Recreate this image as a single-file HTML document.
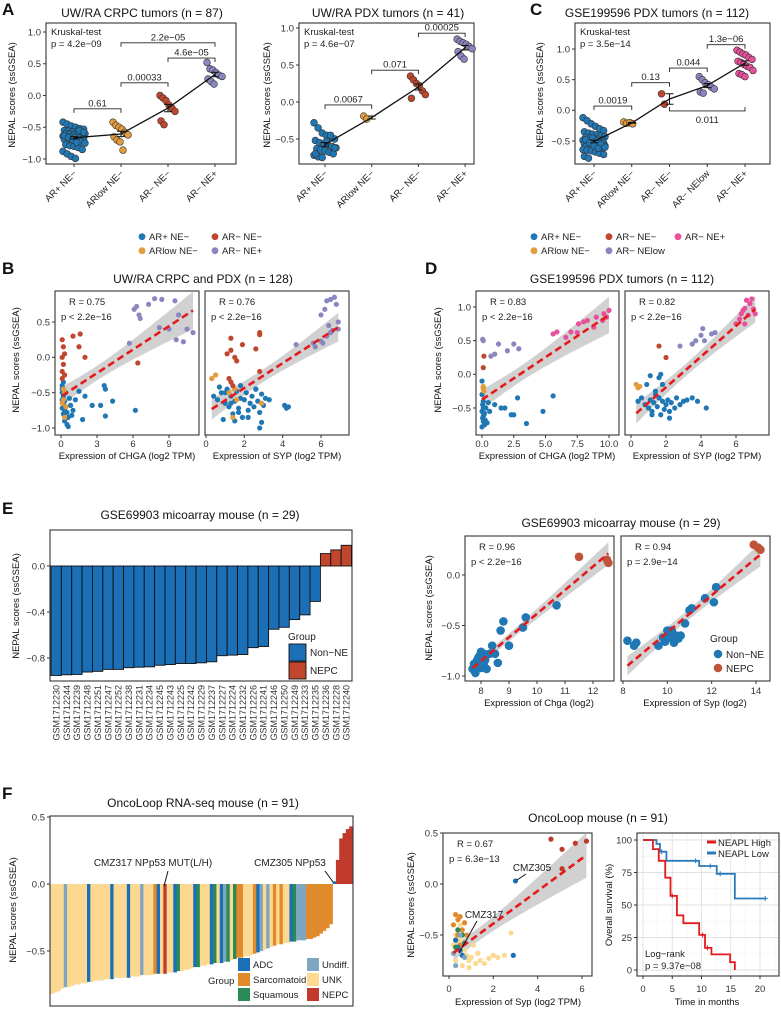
<!DOCTYPE html>
<html><head><meta charset="utf-8">
<style>
html,body{margin:0;padding:0;background:#fff;}
svg{display:block;font-family:"Liberation Sans",Arial,sans-serif;}
</style></head>
<body>
<svg id="fig" xmlns="http://www.w3.org/2000/svg" width="781" height="1009" viewBox="0 0 781 1009">
<g font-weight="bold" font-size="17" fill="#111">
<text x="2" y="15">A</text>
<text x="530" y="15">C</text>
<text x="2" y="274">B</text>
<text x="425" y="274">D</text>
<text x="2" y="514">E</text>
<text x="2" y="799">F</text>
</g>
<g font-size="12" fill="#111" text-anchor="middle">
<text x="142" y="17">UW/RA CRPC tumors (n = 87)</text>
<text x="388" y="17">UW/RA PDX tumors (n = 41)</text>
<text x="657" y="17">GSE199596 PDX tumors (n = 112)</text>
<text x="203" y="283">UW/RA CRPC and PDX (n = 128)</text>
<text x="622" y="283">GSE199596 PDX tumors (n = 112)</text>
<text x="200" y="519">GSE69903 micoarray mouse (n = 29)</text>
<text x="621" y="527">GSE69903 micoarray mouse (n = 29)</text>
<text x="203" y="807">OncoLoop RNA-seq mouse (n = 91)</text>
<text x="598" y="822">OncoLoop mouse (n = 91)</text>
</g>
<g font-size="9.5" fill="#111" text-anchor="middle">
<text transform="translate(15,95) rotate(-90)">NEPAL scores (ssGSEA)</text>
<text transform="translate(270,95) rotate(-90)">NEPAL scores (ssGSEA)</text>
<text transform="translate(543,95) rotate(-90)">NEPAL scores (ssGSEA)</text>
<text transform="translate(19,360) rotate(-90)">NEPAL scores (ssGSEA)</text>
<text transform="translate(441,360) rotate(-90)">NEPAL scores (ssGSEA)</text>
<text transform="translate(19,606) rotate(-90)">NEPAL scores (ssGSEA)</text>
<text transform="translate(432,608) rotate(-90)">NEPAL scores (ssGSEA)</text>
<text transform="translate(16,910) rotate(-90)">NEPAL scores (ssGSEA)</text>
<text transform="translate(414,905) rotate(-90)">NEPAL scores (ssGSEA)</text>
<text transform="translate(612,905) rotate(-90)">Overall survival (%)</text>
<text x="127" y="459">Expression of CHGA (log2 TPM)</text>
<text x="277" y="459">Expression of SYP (log2 TPM)</text>
<text x="547" y="459">Expression of CHGA (log2 TPM)</text>
<text x="697" y="459">Expression of SYP (log2 TPM)</text>
<text x="539" y="706">Expression of Chga (log2)</text>
<text x="695" y="706">Expression of Syp (log2)</text>
<text x="518" y="1005">Expression of Syp (log2 TPM)</text>
<text x="707" y="1005">Time in months</text>
</g>
</svg>
<script>
// ---------- DATA ----------
const aCats1 = ['AR+ NE\u2212','ARlow NE\u2212','AR\u2212 NE\u2212','AR\u2212 NE+'];
const a1Vals = [
 [-0.42,-0.45,-0.48,-0.5,-0.52,-0.53,-0.55,-0.56,-0.57,-0.58,-0.59,-0.6,-0.6,-0.61,-0.62,-0.62,-0.63,-0.64,-0.65,-0.65,-0.66,-0.67,-0.68,-0.69,-0.7,-0.71,-0.72,-0.73,-0.75,-0.77,-0.79,-0.8,-0.82,-0.85,-0.88,-0.92,-0.96,-0.99,-0.55,-0.58,-0.63,-0.66,-0.7,-0.74],
 [-0.42,-0.47,-0.5,-0.53,-0.58,-0.62,-0.65,-0.7,-0.73,-0.86],
 [0.0,-0.04,-0.08,-0.15,-0.2,-0.25,-0.4,-0.46],
 [0.52,0.42,0.4,0.36,0.32,0.3,0.26,0.22,0.18]];
const a1Comp = [[0,1,-0.21,'0.61'],[1,2,0.2,'0.00033'],[2,3,0.59,'4.6e\u221205'],[1,3,0.83,'2.2e\u221205']];
const a2Vals = [
 [-0.28,-0.35,-0.42,-0.45,-0.48,-0.5,-0.52,-0.55,-0.57,-0.58,-0.6,-0.62,-0.63,-0.65,-0.66,-0.68,-0.7,-0.72,-0.74,-0.75,-0.53,-0.45,-0.62,-0.7],
 [-0.19,-0.23],
 [0.35,0.3,0.25,0.22,0.15,0.1,0.05],
 [0.85,0.82,0.8,0.78,0.75,0.72,0.68,0.62,0.58]];
const a2Comp = [[0,1,-0.04,'0.0067'],[1,2,0.43,'0.071'],[2,3,0.93,'0.00025']];
const cCats = ['AR+ NE\u2212','ARlow NE\u2212','AR\u2212 NE\u2212','AR\u2212 NElow','AR\u2212 NE+'];
const cVals = [
 [-0.12,-0.17,-0.22,-0.26,-0.3,-0.33,-0.35,-0.37,-0.39,-0.4,-0.42,-0.43,-0.44,-0.45,-0.46,-0.47,-0.48,-0.49,-0.5,-0.5,-0.51,-0.52,-0.53,-0.54,-0.55,-0.55,-0.56,-0.57,-0.58,-0.59,-0.6,-0.61,-0.62,-0.63,-0.64,-0.65,-0.66,-0.68,-0.7,-0.72,-0.75,-0.78,-0.45,-0.5,-0.55,-0.6,-0.48,-0.53,-0.58,-0.62],
 [-0.19,-0.21,-0.2,-0.22],
 [0.27,0.1],
 [0.55,0.5,0.45,0.42,0.38,0.35,0.3,0.28],
 [0.98,0.95,0.92,0.9,0.86,0.83,0.8,0.78,0.75,0.72,0.7,0.65,0.6,0.58,0.55]];
const cComp = [[0,1,0.07,'0.0019'],[1,2,0.45,'0.13'],[2,3,0.69,'0.044'],[3,4,1.07,'1.3e\u221206']];
const cCompDown = [[2,4,-0.01,'0.011']];
const yTicksA = [-1,-0.5,0,0.5,1];
const yTickLabelsA = ['\u22121.0','\u22120.5','0.0','0.5','1.0'];
const yTicksA2 = [-0.5,0,0.5,1];
const yTickLabelsA2 = ['\u22120.5','0.0','0.5','1.0'];

// B: CHGA
const b1X = [0.1,0.1,0.2,0.1,0.3,0.2,0.4,0.1,0.3,0.5,0.2,0.6,0.3,0.5,0.1,0.4,0.7,0.8,1.0,1.2,1.5,1.8,2.0,2.6,3.3,3.6,3.7,3.7,4.3,6.2,0.2,0.6,0.9,
 0.2,0.3,0.2,0.4,0.3,0.1,
 0.1,0.2,0.3,0.1,0.2,0.1,0.3,0.1,1.0,1.6,1.5,2.0,6.4,
 5.7,6.1,6.3,6.5,6.6,7.3,7.8,8.4,8.2,9.0,9.5,9.6,10.2,10.5,11.0,9.8];
const b1Y = [-0.45,-0.5,-0.55,-0.6,-0.62,-0.65,-0.7,-0.72,-0.75,-0.78,-0.8,-0.85,-0.9,-0.95,-0.4,-0.5,-0.58,-0.68,-0.75,-0.6,-0.48,-0.88,-0.55,-0.68,-0.68,-0.4,-0.45,-0.83,-0.62,-0.75,-0.35,-0.98,-0.82,
 -0.45,-0.5,-0.6,-0.7,-0.85,-0.65,
 0.25,0.15,0.05,0.0,-0.1,-0.2,-0.25,-0.3,0.3,0.33,0.15,0.0,-0.08,
 0.2,0.68,0.72,0.6,0.55,0.75,0.83,0.82,0.42,0.4,0.8,0.25,0.22,0.4,0.35,0.6];
const b1G = [0,0,0,0,0,0,0,0,0,0,0,0,0,0,0,0,0,0,0,0,0,0,0,0,0,0,0,0,0,0,0,0,0,
 1,1,1,1,1,1, 2,2,2,2,2,2,2,2,2,2,2,2,2, 3,3,3,3,3,3,3,3,3,3,3,3,3,3,3,3];
// B: SYP
const b2X = [0.4,0.6,0.8,1.0,1.1,1.2,1.3,1.4,1.5,1.6,1.7,1.8,1.9,2.0,2.1,2.2,2.3,2.4,2.5,2.6,2.7,2.8,2.9,3.0,3.1,3.3,0.7,0.9,1.5,1.8,2.2,2.6,4.1,4.2,4.3,2.8,2.9,1.0,1.3,1.7,
 0.3,0.5,1.2,1.5,1.6,1.4,2.9,
 1.3,1.1,1.3,1.5,1.6,1.9,2.6,2.8,2.8,2.8,1.2,1.3,1.4,
 4.7,5.7,5.6,6.0,6.1,6.3,6.5,6.6,6.9,6.0,6.2,6.3,6.5,6.7,6.8,6.9,6.4];
const b2Y = [-0.55,-0.6,-0.5,-0.65,-0.45,-0.7,-0.55,-0.8,-0.62,-0.48,-0.72,-0.58,-0.85,-0.6,-0.5,-0.75,-0.65,-0.55,-0.7,-0.45,-0.62,-0.78,-0.52,-0.68,-0.58,-0.6,-0.42,-0.88,-0.9,-0.4,-0.85,-0.45,-0.68,-0.72,-0.7,-1.0,-0.92,-0.5,-0.65,-0.78,
 -0.3,-0.25,-0.5,-0.45,-0.6,-0.85,-0.65,
 0.27,0.05,0.1,0.0,-0.05,0.18,0.12,0.35,0.32,-0.2,-0.3,-0.35,-0.4,
 0.18,0.15,0.2,0.23,0.2,0.3,0.35,0.38,0.4,0.6,0.68,0.8,0.82,0.85,0.75,0.5,0.45];
const b2G = [0,0,0,0,0,0,0,0,0,0,0,0,0,0,0,0,0,0,0,0,0,0,0,0,0,0,0,0,0,0,0,0,0,0,0,0,0,0,0,0,
 1,1,1,1,1,1,1, 2,2,2,2,2,2,2,2,2,2,2,2,2, 3,3,3,3,3,3,3,3,3,3,3,3,3,3,3,3,3];
// D
const d1X = [0.0,0.1,0.0,0.1,0.05,0.1,0.0,0.15,0.05,0.1,0.2,0.0,0.3,0.2,0.1,0.25,0.6,1.0,1.5,1.8,2.3,2.5,2.8,3.5,4.8,5.6,0.5,0.4,
 0.1,0.15,0.1, 0.1,0.15,
 0.05,0.1,0.7,1.0,1.3,2.0,2.5,2.9,
 5.6,5.9,6.6,7.0,7.5,7.6,8.0,8.3,9.0,9.5,9.6,10.0,9.8,8.8];
const d1Y = [-0.1,-0.2,-0.3,-0.4,-0.45,-0.5,-0.55,-0.6,-0.65,-0.7,-0.75,-0.78,-0.5,-0.58,-0.62,-0.68,-0.55,-0.45,-0.5,-0.5,-0.6,-0.6,-0.35,-0.73,-0.55,-0.32,-0.42,-0.72,
 -0.18,-0.25,-0.22, 0.1,0.27,
 0.52,0.5,0.27,0.3,0.45,0.35,0.45,0.38,
 0.6,0.63,0.55,0.63,0.62,0.75,0.78,0.8,0.85,0.8,0.9,0.95,0.85,0.7];
const d1G = [0,0,0,0,0,0,0,0,0,0,0,0,0,0,0,0,0,0,0,0,0,0,0,0,0,0,0,0, 1,1,1, 2,2, 3,3,3,3,3,3,3,3, 4,4,4,4,4,4,4,4,4,4,4,4,4,4];
const d2X = [0.4,0.6,0.8,1.0,1.1,1.2,1.3,1.4,1.5,1.6,1.7,1.8,1.9,2.0,2.1,2.2,2.3,2.5,2.6,2.8,3.0,3.2,3.5,3.8,4.3,1.6,1.7,1.1,0.9,1.4,1.8,2.2,1.2,
 0.3,0.4,0.5, 1.6,2.0,
 2.8,3.5,3.7,4.0,4.1,4.6,4.8,4.2,
 6.0,6.2,6.3,6.4,6.5,6.6,6.8,6.9,7.0,7.1,6.7,6.5];
const d2Y = [-0.4,-0.35,-0.45,-0.5,-0.38,-0.55,-0.42,-0.3,-0.48,-0.35,-0.6,-0.4,-0.52,-0.45,-0.38,-0.55,-0.42,-0.5,-0.35,-0.45,-0.4,-0.38,-0.35,-0.4,-0.5,-0.05,0.0,-0.02,-0.15,-0.25,-0.15,-0.65,-0.6,
 -0.15,-0.2,-0.18, 0.42,0.25,
 0.42,0.45,0.5,0.58,0.68,0.6,0.62,0.5,
 0.75,0.82,0.9,0.95,0.98,1.1,1.05,1.12,0.97,0.9,0.88,0.75];
const d2G = [0,0,0,0,0,0,0,0,0,0,0,0,0,0,0,0,0,0,0,0,0,0,0,0,0,0,0,0,0,0,0,0,0, 1,1,1, 2,2, 3,3,3,3,3,3,3,3, 4,4,4,4,4,4,4,4,4,4,4,4];
const bCorr = [['R = 0.75','p < 2.2e\u221216'],['R = 0.76','p < 2.2e\u221216']];
const dCorr = [['R = 0.83','p < 2.2e\u221216'],['R = 0.82','p < 2.2e\u221216']];

// E bars
const eSamples = ['GSM1712230','GSM1712244','GSM1712239','GSM1712248','GSM1712251','GSM1712247','GSM1712252','GSM1712238','GSM1712231','GSM1712234','GSM1712245','GSM1712243','GSM1712225','GSM1712242','GSM1712229','GSM1712237','GSM1712227','GSM1712224','GSM1712232','GSM1712226','GSM1712241','GSM1712246','GSM1712250','GSM1712249','GSM1712233','GSM1712235','GSM1712236','GSM1712228','GSM1712240'];
const eValues = [-0.952,-0.946,-0.943,-0.922,-0.916,-0.899,-0.899,-0.884,-0.88,-0.877,-0.863,-0.857,-0.848,-0.848,-0.842,-0.833,-0.78,-0.775,-0.77,-0.71,-0.70,-0.55,-0.533,-0.466,-0.425,-0.308,0.108,0.14,0.18];
const eGroup = ['N','N','N','N','N','N','N','N','N','N','N','N','N','N','N','N','N','N','N','N','N','N','N','N','N','N','P','P','P'];
// E scatter
const e1X = [7.7,7.75,7.8,7.85,7.9,7.95,8.0,8.05,8.1,8.15,8.2,7.8,7.9,8.0,8.1,8.3,8.4,8.5,8.6,8.7,8.8,9.0,9.5,9.6,10.7, 11.5,12.5,12.55];
const e1Y = [-0.93,-0.88,-0.95,-0.85,-0.9,-0.8,-0.92,-0.87,-0.78,-0.84,-0.93,-0.97,-0.82,-0.76,-0.88,-0.78,-0.7,-0.78,-0.87,-0.55,-0.46,-0.7,-0.52,-0.42,-0.3, 0.18,0.15,0.12];
const e1G = [0,0,0,0,0,0,0,0,0,0,0,0,0,0,0,0,0,0,0,0,0,0,0,0,0,1,1,1];
const e2X = [8.2,8.5,8.6,9.6,9.8,10.0,10.1,10.2,10.3,10.4,10.5,10.6,10.8,11.0,11.1,11.7,12.1,12.2,9.9,10.2, 13.9,14.1,14.2];
const e2Y = [-0.65,-0.7,-0.67,-0.7,-0.62,-0.55,-0.62,-0.58,-0.67,-0.6,-0.63,-0.6,-0.48,-0.35,-0.33,-0.23,-0.27,-0.12,-0.66,-0.55, 0.3,0.27,0.25];
const e2G = [0,0,0,0,0,0,0,0,0,0,0,0,0,0,0,0,0,0,0,0,1,1,1];
const eCorr = [['R = 0.96','p < 2.2e\u221216'],['R = 0.94','p = 2.9e\u221214']];

// F bars
const fValues = [-0.82,-0.81,-0.80,-0.78,-0.77,-0.77,-0.76,-0.75,-0.75,-0.74,
 -0.74,-0.73,-0.73,-0.72,-0.72,-0.72,-0.71,-0.71,-0.71,-0.70,
 -0.70,-0.70,-0.70,-0.70,-0.69,-0.69,-0.69,-0.68,-0.68,-0.68,
 -0.68,-0.67,-0.67,-0.67,-0.67,-0.66,-0.66,-0.66,-0.65,-0.65,
 -0.64,-0.64,-0.63,-0.62,-0.62,-0.61,-0.61,-0.60,-0.60,-0.59,
 -0.59,-0.59,-0.58,-0.58,-0.57,-0.56,-0.55,-0.55,-0.54,-0.54,
 -0.53,-0.52,-0.51,-0.50,-0.49,-0.48,-0.47,-0.46,-0.45,-0.45,
 -0.44,-0.44,-0.43,-0.43,-0.42,-0.42,-0.42,-0.41,-0.41,-0.40,
 -0.39,-0.37,-0.35,-0.33,-0.30, 0.02, 0.18,0.34,0.38,0.41,0.43];
const fGroup = ('K K K K U K K K K K K A K K K K K K A K K K K A K K K U K K K S A K N K K A Q K K K K A Q K K K A Q K A U Q K Q S S K K K S A U K U K S K S K K A Q U U U S S S S S S S S A N N N N N').split(' ');
const fGroupNames = ['ADC','Sarcomatoid','Squamous','Undiff.','UNK','NEPC'];
const fGroupCodes = ['A','S','Q','U','K','N'];
// F scatter
const fsX = [0.3,0.4,0.5,0.6,0.7,0.8,0.9,1.0,1.2,1.4,1.6,1.8,2.0,2.2,2.5,2.8,0.6,0.4,0.3,0.5,1.1,0.2,1.3,0.9,
 0.3,0.4,0.5,0.2,0.6,0.4,0.7,0.3,0.5,0.8,
 0.3,0.5,0.6,0.4,3.0,2.9,
 0.4,0.6,0.3,0.7,
 0.3,0.5,0.7,0.2,
 4.6,5.1,5.7,6.2,5.1];
const fsY = [-0.5,-0.45,-0.55,-0.6,-0.65,-0.7,-0.75,-0.72,-0.78,-0.75,-0.78,-0.73,-0.7,-0.72,-0.7,-0.48,-0.8,-0.65,-0.75,-0.4,-0.6,-0.6,-0.68,-0.82,
 -0.3,-0.35,-0.32,-0.4,-0.45,-0.5,-0.38,-0.55,-0.6,-0.5,
 -0.55,-0.65,-0.7,-0.62,0.03,-0.7,
 -0.45,-0.5,-0.62,-0.58,
 -0.8,-0.5,-0.72,-0.68,
 0.44,0.34,0.4,0.42,0.15];
const fsG = ['K','K','K','K','K','K','K','K','K','K','K','K','K','K','K','K','K','K','K','K','K','K','K','K',
 'S','S','S','S','S','S','S','S','S','S','A','A','A','A','A','A','Q','Q','Q','Q','U','U','U','U','N','N','N','N','N'];
// Survival
const survHighT = [0,1.7,2.7,3.8,4.7,5.8,6.9,9.6,10.6,11.7,14.9,15.7];
const survHighS = [100,93,84,71,57,42,36,27,17,12,6,0];
const survLowT = [0,2.3,2.9,4.0,9.6,12.6,15.7,20.9];
const survLowS = [100,97,91,84,80,74,55,55];
const survCensorLowT = [3.2,9.0,11.5,13.2,20.9];
const survCensorHighT = [5.0,10.2,11.0];

// ---------- HELPERS ----------
const NS = 'http://www.w3.org/2000/svg';
const svg = document.getElementById('fig');
function mk(tag, attrs, parent){ const e = document.createElementNS(NS, tag); for (const k in attrs) e.setAttribute(k, attrs[k]); (parent||svg).appendChild(e); return e; }
function lin(d0,d1,r0,r1){ return v => r0 + (v-d0)*(r1-r0)/(d1-d0); }
function grp(name){
  const g = mk('g', {});
  
  
  return g;
}
function txt(g, x, y, s, size, anchor, name, fill){
  const t = mk('text', {x:x, y:y, 'font-size':size, 'text-anchor':anchor||'middle', fill:fill||'#111'}, g);
  t.textContent = s;
  
  
  return t;
}
function frame(g, b){
  const r = mk('rect', {x:b.x0, y:b.y0, width:b.x1-b.x0, height:b.y1-b.y0, fill:'none', stroke:'#333', 'stroke-width':1.1}, g);
  
  
}
function yAxis(g, b, ticks, labels, sy){
  ticks.forEach((v,i)=>{
    const l = mk('line', {x1:b.x0-3, x2:b.x0, y1:sy(v), y2:sy(v), stroke:'#333'}, g);
    
    
    txt(g, b.x0-5, sy(v)+3.3, labels[i], 9.5, 'end', 'y-tick-label', '#333');
  });
}
function xAxis(g, b, ticks, labels, sx, ly){
  ticks.forEach((v,i)=>{
    const l = mk('line', {x1:sx(v), x2:sx(v), y1:b.y1, y2:b.y1+3, stroke:'#333'}, g);
    
    
    txt(g, sx(v), ly||b.y1+12, labels[i], 9.5, 'middle', 'x-tick-label', '#333');
  });
}
const COL = {blue:'#1f77b4', orange:'#e39b3b', red:'#c0472f', purple:'#8a86c0', pink:'#e8509b'};

// ---------- PANEL A / C (dot plots) ----------
function dotPanel(name, b, cats, vals, sy, cx0, step, colors, yt, ytl, comps, compsDown, kp){
  const g = grp(name);
  frame(g, b);
  yAxis(g, b, yt, ytl, sy);
  const cx = i => cx0 + i*step;
  cats.forEach((c,i)=>{
    const l = mk('line', {x1:cx(i), x2:cx(i), y1:b.y1, y2:b.y1+3, stroke:'#333'}, g);
    
    
    const t = txt(g, cx(i)+3, b.y1+10, c, 9.5, 'end', 'category-label', '#222');
    t.setAttribute('transform', `rotate(-45 ${cx(i)+3} ${b.y1+10})`);
  });
  const means = vals.map(v => v.reduce((a,c)=>a+c,0)/v.length);
  vals.forEach((arr,i)=>{
    const w = arr.length > 20 ? 11 : 8;
    arr.forEach((v,j)=>{
      const dx = ((((j*37)%17)/16) - 0.5)*2*w;
      const c = mk('circle', {cx:cx(i)+dx, cy:sy(v), r:3.4, fill:colors[i], stroke:'#333', 'stroke-width':0.6}, g);
      
      
    });
  });
  const pl = mk('polyline', {points: means.map((m,i)=>`${cx(i)},${sy(m)}`).join(' '), fill:'none', stroke:'#111', 'stroke-width':1.3}, g);
  
  
  vals.forEach((arr,i)=>{
    const m = means[i]; const sd = Math.sqrt(arr.reduce((a,c)=>a+(c-m)*(c-m),0)/Math.max(1,arr.length-1)); const se = sd/Math.sqrt(arr.length);
    const e = mk('path', {d:`M${cx(i)-4},${sy(m+se)}H${cx(i)+4}M${cx(i)},${sy(m+se)}V${sy(m-se)}M${cx(i)-4},${sy(m-se)}H${cx(i)+4}`, stroke:'#111', 'stroke-width':1, fill:'none'}, g);
    
    
  });
  comps.forEach(c=>{
    const y = sy(c[2]);
    const p = mk('path', {d:`M${cx(c[0])},${y+4}V${y}H${cx(c[1])}V${y+4}`, fill:'none', stroke:'#222', 'stroke-width':0.9}, g);
    
    
    txt(g, (cx(c[0])+cx(c[1]))/2, y-2.5, c[3], 9.5, 'middle', 'p-value-label', '#222');
  });
  (compsDown||[]).forEach(c=>{
    const y = sy(c[2]);
    const p = mk('path', {d:`M${cx(c[0])},${y-4}V${y}H${cx(c[1])}V${y-4}`, fill:'none', stroke:'#222', 'stroke-width':0.9}, g);
    
    
    txt(g, (cx(c[0])+cx(c[1]))/2, y+12, c[3], 9.5, 'middle', 'p-value-label', '#222');
  });
  txt(g, b.x0+5, b.y0+12, 'Kruskal-test', 9.5, 'start', 'test-name', '#222');
  txt(g, b.x0+5, b.y0+24, kp, 9.5, 'start', 'kruskal-p-value', '#222');
}
const bA1 = {x0:46, x1:236, y0:23, y1:164};
dotPanel('panel-a1-crpc-tumors', bA1, aCats1, a1Vals, lin(-1,1,159,32), 74, 47,
  [COL.blue, COL.orange, COL.red, COL.purple], yTicksA, yTickLabelsA, a1Comp, null, 'p = 4.2e\u221209');
const bA2 = {x0:299, x1:474, y0:23, y1:164};
dotPanel('panel-a2-pdx-tumors', bA2, aCats1, a2Vals, lin(-0.5,1,139,28), 325, 46.7,
  [COL.blue, COL.orange, COL.red, COL.purple], yTicksA2, yTickLabelsA2, a2Comp, null, 'p = 4.6e\u221207');
const bC = {x0:575, x1:770, y0:23, y1:164};
dotPanel('panel-c-gse199596', bC, cCats, cVals, lin(-0.5,1,141,49), 594, 37.75,
  [COL.blue, COL.orange, COL.red, COL.purple, COL.pink], yTicksA2, yTickLabelsA2, cComp, cCompDown, 'p = 3.5e\u221214');

// legends A & C
function legend(name, items, colors, xs, ys){
  const g = grp(name);
  items.forEach((s,i)=>{
    const c = mk('circle', {cx:xs[i], cy:ys[i]-3.3, r:3.4, fill:colors[i]}, g);
    
    
    txt(g, xs[i]+7, ys[i], s, 9.5, 'start', 'legend-entry', '#222');
  });
}
legend('legend-a', ['AR+ NE\u2212','AR\u2212 NE\u2212','ARlow NE\u2212','AR\u2212 NE+'], [COL.blue,COL.red,COL.orange,COL.purple], [142,215,142,215], [240,240,254,254]);
legend('legend-c', ['AR+ NE\u2212','AR\u2212 NE\u2212','AR\u2212 NE+','ARlow NE\u2212','AR\u2212 NElow'], [COL.blue,COL.red,COL.pink,COL.orange,COL.purple], [534,609,678,534,609], [240,240,240,254,254]);

// ---------- SCATTER with regression ----------
function regress(xs, ys){
  const n = xs.length; const mx = xs.reduce((a,c)=>a+c,0)/n; const my = ys.reduce((a,c)=>a+c,0)/n;
  let sxx=0, sxy=0; for (let i=0;i<n;i++){ sxx += (xs[i]-mx)**2; sxy += (xs[i]-mx)*(ys[i]-my); }
  const k = sxy/sxx, c0 = my - k*mx;
  let sse = 0; for (let i=0;i<n;i++) sse += (ys[i]-(c0+k*xs[i]))**2;
  const s = Math.sqrt(sse/(n-2));
  return {k, c0, mx, sxx, s, n};
}
function scatter(name, b, xs, ys, gs, colors, sx, sy, r, xt, xtl, yt, ytl, corr, showY, ly, stroke){
  const g = grp(name);
  frame(g, b);
  if (showY) yAxis(g, b, yt, ytl, sy);
  xAxis(g, b, xt, xtl, sx, ly);
  const f = regress(xs, ys);
  const xmin = Math.min(...xs), xmax = Math.max(...xs);
  const N = 30, up = [], lo = [];
  for (let i=0;i<=N;i++){
    const x = xmin + (xmax-xmin)*i/N;
    const se = f.s*Math.sqrt(1/f.n + (x-f.mx)**2/f.sxx) * 2.2;
    const y = f.c0 + f.k*x;
    up.push(`${sx(x)},${sy(y+se)}`); lo.unshift(`${sx(x)},${sy(y-se)}`);
  }
  const band = mk('polygon', {points: up.concat(lo).join(' '), fill:'#bdbdbd', 'fill-opacity':0.7}, g);
  
  
  const pts = grp(name + '-points'); g.appendChild(pts);
  xs.forEach((x,i)=>{
    const c = mk('circle', {cx:sx(x), cy:sy(ys[i]), r:r, fill:colors[gs[i]]}, pts);
    if (stroke) { c.setAttribute('stroke', '#fff'); c.setAttribute('stroke-width', 0.3); }
    
    
  });
  const ln = mk('line', {x1:sx(xmin), y1:sy(f.c0+f.k*xmin), x2:sx(xmax), y2:sy(f.c0+f.k*xmax), stroke:'#e41a1c', 'stroke-width':2.6, 'stroke-dasharray':'7,4'}, g);
  
  
  if (corr){
    txt(g, b.x0+14, b.y0+14, corr[0], 9.5, 'start', 'correlation-r', '#222');
    txt(g, b.x0+6, b.y0+29, corr[1], 9.5, 'start', 'correlation-p', '#222');
  }
  return g;
}
const bColors = [COL.blue, COL.orange, COL.red, COL.purple];
const dColors = [COL.blue, COL.orange, COL.red, COL.purple, COL.pink];
const yB = lin(-1,0.5,428,322);
scatter('panel-b1-chga', {x0:55,x1:199,y0:291,y1:435}, b1X, b1Y, b1G, bColors, lin(0,9,61,169), yB, 2.6,
  [0,3,6,9], ['0','3','6','9'], [-1,-0.5,0,0.5], ['\u22121.0','\u22120.5','0.0','0.5'], bCorr[0], true, 447);
scatter('panel-b2-syp', {x0:205,x1:349,y0:291,y1:435}, b2X, b2Y, b2G, bColors, lin(0,6,206,321), yB, 2.6,
  [0,2,4,6], ['0','2','4','6'], null, null, bCorr[1], false, 447);
const yD = lin(-0.5,1,408,307);
scatter('panel-d1-chga', {x0:476,x1:619,y0:291,y1:435}, d1X, d1Y, d1G, dColors, lin(0,10,482,609), yD, 2.6,
  [0,2.5,5,7.5,10], ['0.0','2.5','5.0','7.5','10.0'], [-0.5,0,0.5,1], ['\u22120.5','0.0','0.5','1.0'], dCorr[0], true, 447);
scatter('panel-d2-syp', {x0:625,x1:769,y0:291,y1:435}, d2X, d2Y, d2G, dColors, lin(0,6,631,736), yD, 2.6,
  [0,2,4,6], ['0','2','4','6'], null, null, dCorr[1], false, 447);

// ---------- PANEL E bars ----------
(function(){
  const b = {x0:50, x1:352, y0:530, y1:681};
  const g = grp('panel-e-bar-chart');
  frame(g, b);
  const sy = lin(-0.8,0,658,566);
  yAxis(g, b, [-0.8,-0.4,0], ['\u22120.8','\u22120.4','0.0'], sy);
  const bw = (b.x1-b.x0-1.5)/eValues.length;
  eValues.forEach((v,i)=>{
    const x = b.x0+1 + i*bw;
    const y0 = sy(Math.max(0,v)), y1 = sy(Math.min(0,v));
    const r = mk('rect', {x:x, y:y0, width:bw, height:y1-y0, fill: eGroup[i]==='P' ? '#c0462e' : '#1a6fb7', stroke:'#111', 'stroke-width':0.9}, g);
    
    
    const t = txt(g, x+bw/2+3.3, b.y1+4, eSamples[i], 9, 'end', 'sample-label', '#333');
    t.setAttribute('transform', `rotate(-90 ${x+bw/2+3.3} ${b.y1+4})`);
  });
  txt(g, 288, 640, 'Group', 10, 'start', 'legend-title', '#222');
  const s1 = mk('rect', {x:289, y:644, width:17, height:17, fill:'#1a6fb7', stroke:'#111', 'stroke-width':0.9}, g);
  
  
  const s2 = mk('rect', {x:289, y:662, width:17, height:17, fill:'#c0462e', stroke:'#111', 'stroke-width':0.9}, g);
  
  
  txt(g, 310, 656, 'Non\u2212NE', 10, 'start', 'legend-entry', '#222');
  txt(g, 310, 674, 'NEPC', 10, 'start', 'legend-entry', '#222');
})();

// ---------- PANEL E scatter ----------
const eColors = ['#1f77b4', '#c0533a'];
const yE = lin(-1,0,676,575);
scatter('panel-e1-chga', {x0:465,x1:614,y0:536,y1:681}, e1X, e1Y, e1G, eColors, lin(8,12,481,593), yE, 4.3,
  [8,9,10,11,12], ['8','9','10','11','12'], [-1,-0.5,0], ['\u22121.0','\u22120.5','0.0'], eCorr[0], true, 694, false);
scatter('panel-e2-syp', {x0:621,x1:770,y0:536,y1:681}, e2X, e2Y, e2G, eColors, lin(8,14,623,756), yE, 4.3,
  [8,10,12,14], ['8','10','12','14'], null, null, eCorr[1], false, 694, false);
(function(){
  const g = grp('legend-e-scatter');
  txt(g, 710, 642, 'Group', 10, 'start', 'legend-title', '#222');
  const c1 = mk('circle', {cx:718, cy:654, r:4.3, fill:eColors[0]}, g);
  
  
  const c2 = mk('circle', {cx:718, cy:668, r:4.3, fill:eColors[1]}, g);
  
  
  txt(g, 726, 658, 'Non\u2212NE', 10, 'start', 'legend-entry', '#222');
  txt(g, 726, 672, 'NEPC', 10, 'start', 'legend-entry', '#222');
})();

// ---------- PANEL F bars ----------
const fColors = {A:'#1a6fb7', S:'#e08a2c', Q:'#2a8a55', U:'#7ea6c0', K:'#fcd891', N:'#c0392b'};
(function(){
  const b = {x0:50, x1:353, y0:816, y1:1006};
  const g = grp('panel-f-bar-chart');
  const sy = lin(-0.5,0,951,884);
  const bw = (b.x1-b.x0-1)/fValues.length;
  fValues.forEach((v,i)=>{
    const x = b.x0+0.5 + i*bw;
    const y0 = sy(Math.max(0,v)), y1 = sy(Math.min(0,v));
    const r = mk('rect', {x:x, y:y0, width:bw+0.3, height:y1-y0, fill:fColors[fGroup[i]]}, g);
    
    
  });
  frame(g, b);
  yAxis(g, b, [-0.5,0,0.5], ['\u22120.5','0.0','0.5'], sy);
  txt(g, 153, 866, 'CMZ317 NPp53 MUT(L/H)', 10, 'middle', 'annotation-cmz317', '#222');
  txt(g, 290, 866, 'CMZ305 NPp53', 10, 'middle', 'annotation-cmz305', '#222');
  const a1 = mk('line', {x1:168, y1:871, x2:164, y2:886, stroke:'#111', 'stroke-width':1}, g);
  
  
  const a2 = mk('line', {x1:325, y1:871, x2:333, y2:882, stroke:'#111', 'stroke-width':1}, g);
  
  
  txt(g, 208, 984, 'Group', 9.5, 'start', 'legend-title', '#222');
  const lx = [238,238,238,307,307,307], lyy = [958,973,988,958,973,988];
  fGroupNames.forEach((nm,i)=>{
    const s = mk('rect', {x:lx[i], y:lyy[i], width:12, height:13, fill:fColors[fGroupCodes[i]]}, g);
    
    
    txt(g, lx[i]+15, lyy[i]+10, nm, 9.5, 'start', 'legend-entry', '#222');
  });
})();

// ---------- PANEL F scatter ----------
(function(){
  const g = scatter('panel-f-scatter-syp', {x0:443,x1:592,y0:833,y1:976}, fsX, fsY, fsG.map(c=>fGroupCodes.indexOf(c)),
    fGroupCodes.map(c=>fColors[c]), lin(0,6,449,582), lin(-0.5,0.5,935,833), 2.6,
    [0,2,4,6], ['0','2','4','6'], [-0.5,0,0.5], ['\u22120.5','0.0','0.5'], ['R = 0.67','p = 6.3e\u221213'], true, 992, false);
  txt(g, 532, 871, 'CMZ305', 10, 'middle', 'annotation-cmz305', '#222');
  txt(g, 484, 918, 'CMZ317', 10, 'middle', 'annotation-cmz317', '#222');
  const l1 = mk('line', {x1:526, y1:874, x2:517, y2:880, stroke:'#111'}, g);
  
  
  const l2 = mk('line', {x1:477, y1:921, x2:459, y2:953, stroke:'#111'}, g);
  
  
})();

// ---------- Survival ----------
(function(){
  const b = {x0:637, x1:779, y0:833, y1:976};
  const g = grp('panel-f-survival');
  const sx = lin(0,20,643,760), sy = lin(0,100,970,840);
  for (let t=0;t<=22.5;t+=2.5){ const l = mk('line', {x1:sx(t), x2:sx(t), y1:b.y0, y2:b.y1, stroke: t%5===0?'#e2e2e2':'#f0f0f0', 'stroke-width':t%5===0?0.9:0.6}, g);
    
     }
  for (let s=0;s<=100;s+=12.5){ const l = mk('line', {x1:b.x0, x2:b.x1, y1:sy(s), y2:sy(s), stroke: s%25===0?'#e2e2e2':'#f0f0f0', 'stroke-width':s%25===0?0.9:0.6}, g);
    
     }
  frame(g, b);
  yAxis(g, b, [0,25,50,75,100], ['0','25','50','75','100'], sy);
  xAxis(g, b, [0,5,10,15,20], ['0','5','10','15','20'], sx, 992);
  function steps(T,S){ let d = `M${sx(T[0])},${sy(S[0])}`; for (let i=1;i<T.length;i++){ d += `H${sx(T[i])}V${sy(S[i])}`; } return d; }
  const lo = mk('path', {d:steps(survLowT, survLowS), fill:'none', stroke:'#2b7bba', 'stroke-width':1.8}, g);
  
  
  const hi = mk('path', {d:steps(survHighT, survHighS), fill:'none', stroke:'#e31a1c', 'stroke-width':1.8}, g);
  
  
  function sAt(T,S,t){ let s=S[0]; for (let i=0;i<T.length;i++) if (T[i]<=t) s=S[i]; return s; }
  survCensorLowT.forEach(t=>{ const y=sy(sAt(survLowT,survLowS,t)), x=sx(t);
    const m = mk('path', {d:`M${x-2.5},${y}H${x+2.5}M${x},${y-2.5}V${y+2.5}`, stroke:'#2b7bba', 'stroke-width':1}, g);
    
     });
  survCensorHighT.forEach(t=>{ const y=sy(sAt(survHighT,survHighS,t)), x=sx(t);
    const m = mk('path', {d:`M${x-2.5},${y}H${x+2.5}M${x},${y-2.5}V${y+2.5}`, stroke:'#e31a1c', 'stroke-width':1}, g);
    
     });
  const k1 = mk('line', {x1:707, x2:716, y1:842, y2:842, stroke:'#e31a1c', 'stroke-width':3}, g);
  
  
  const k2 = mk('line', {x1:707, x2:716, y1:853, y2:853, stroke:'#2b7bba', 'stroke-width':3}, g);
  
  
  txt(g, 718, 846, 'NEAPL High', 9.5, 'start', 'legend-entry', '#222');
  txt(g, 718, 857, 'NEAPL Low', 9.5, 'start', 'legend-entry', '#222');
  txt(g, 645, 957, 'Log\u2212rank', 9.5, 'start', 'log-rank-label', '#222');
  txt(g, 645, 969, 'p = 9.37e\u221208', 9.5, 'start', 'log-rank-p', '#222');
})();
</script>
</body></html>
